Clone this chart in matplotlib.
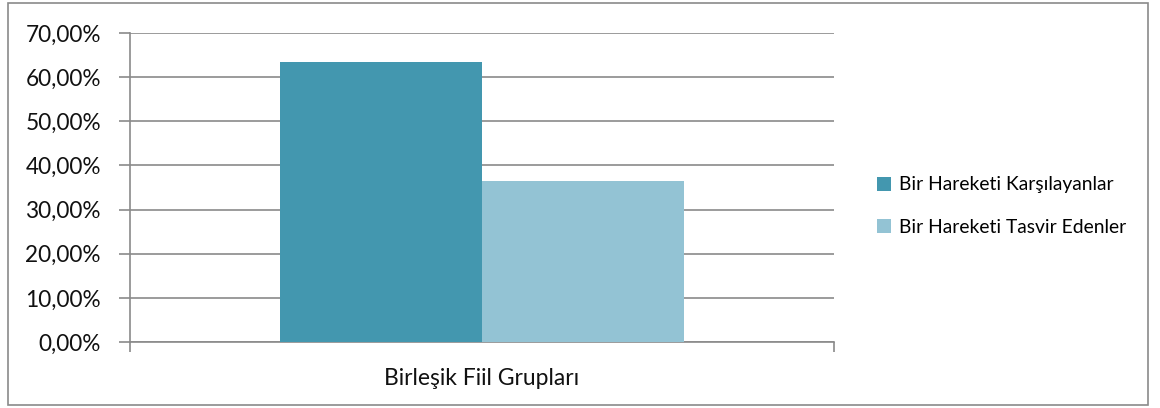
import matplotlib
matplotlib.use("Agg")
import matplotlib.pyplot as plt
from matplotlib.patches import Rectangle, Patch
from matplotlib.ticker import FuncFormatter, FixedLocator

categories = ["Birleşik Fiil Grupları"]
series_names = ["Bir Hareketi Karşılayanlar", "Bir Hareketi Tasvir Edenler"]
series_values = [[63.5], [36.5]]
colors = ["#4397AF", "#93C3D4"]
yticks = [0, 10, 20, 30, 40, 50, 60, 70]

plt.rcParams['font.family'] = ['Lato', 'DejaVu Sans']

W, H = 1160, 408
fig = plt.figure(figsize=(W / 100, H / 100), dpi=100)
ax = fig.add_axes([130 / W, (H - 342) / H, 704 / W, 309 / H])

bw = 0.287
n = len(series_values)
for i, (name, vals, c) in enumerate(zip(series_names, series_values, colors)):
    xs = [j + (i - (n - 1) / 2) * bw for j in range(len(categories))]
    ax.bar(xs, vals, width=bw, color=c, label=name, zorder=3)

ax.set_xlim(-0.5, len(categories) - 0.5)
ax.set_ylim(0, 70)
ax.set_yticks(yticks)
ax.yaxis.set_major_formatter(FuncFormatter(lambda v, p: f"{v:.2f}".replace(".", ",") + "%"))
ax.grid(axis='y', color='#8A8A8A', linewidth=1.2, zorder=0)
ax.set_axisbelow(True)

for s in ['top', 'right']:
    ax.spines[s].set_visible(False)
for s in ['left', 'bottom']:
    ax.spines[s].set_color('#8A8A8A')
    ax.spines[s].set_linewidth(1.2)

ax.tick_params(axis='y', length=8, width=1.2, color='#8A8A8A', labelsize=16.3, pad=13, labelcolor='#111111')
ax.set_xticks(range(len(categories)))
ax.set_xticklabels(categories)
ax.tick_params(axis='x', which='major', length=0, labelsize=16.5, pad=19, labelcolor='#111111')
ax.xaxis.set_minor_locator(FixedLocator([-0.5, len(categories) - 0.5]))
ax.tick_params(axis='x', which='minor', length=7, width=1.2, color='#8A8A8A')

handles = [Patch(facecolor=c, edgecolor='none') for c in colors]
fig.legend(handles, series_names, loc='center left', bbox_to_anchor=(869 / W, 1 - 206 / H),
           frameon=False, fontsize=13.9, handlelength=0.75, handleheight=0.75,
           handletextpad=0.4, labelspacing=1.3, borderaxespad=0)

fig.patches.append(Rectangle((8 / W, 3 / H), 1140 / W, 402 / H, transform=fig.transFigure,
                             fill=False, edgecolor='#8A8A8A', linewidth=1.2))

fig.savefig("out.png", dpi=100)
